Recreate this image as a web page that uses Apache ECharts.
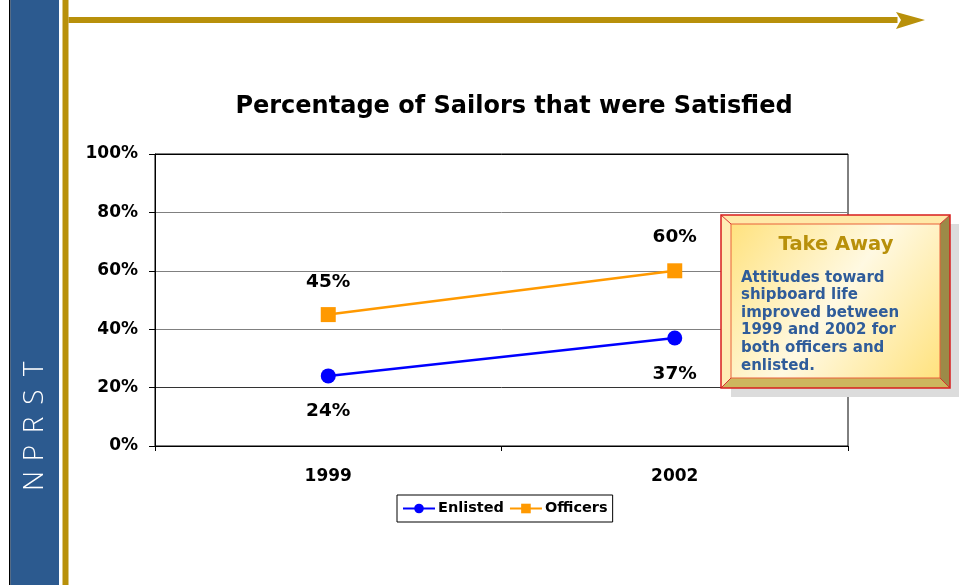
<!DOCTYPE html>
<html><head><meta charset="utf-8">
<script src="https://cdn.jsdelivr.net/npm/echarts@6/dist/echarts.min.js"></script>
<style>html,body{margin:0;padding:0;background:#fff}#c{width:963px;height:585px}</style>
</head><body><div id="c"></div>
<script>
const categories = ['1999', '2002'];
const enlisted = [24, 37];
const officers = [45, 60];
const yTicks = [0, 20, 40, 60, 80, 100];
const chartTitle = 'Percentage of Sailors that were Satisfied';
const sideLetters = ['N', 'P', 'R', 'S', 'T'];
const takeAwayTitle = 'Take Away';
const takeAwayText = 'Attitudes toward\nshipboard life\nimproved between\n1999 and 2002 for\nboth officers and\nenlisted.';

const FONT = '"DejaVu Sans", Verdana, sans-serif';
const gold = '#B8900A';
const chart = echarts.init(document.getElementById('c'), null, {renderer: 'canvas'});

const letterEls = sideLetters.map((ch, i) => ({
  type: 'text', x: 35, y: 481 - i * 28, rotation: Math.PI / 2, z: 10,
  style: {text: ch, fill: '#fff', font: '300 28px "Open Sans", sans-serif', align: 'center', verticalAlign: 'middle'}
}));

const bx = 721, by = 215, bw = 229, bh = 173, bv = 10;
const ix = bx + bv, iy = by + bv - 1, iw = bw - 2 * bv, ih = bh - 2 * bv + 1;

chart.setOption({
  animation: false,
  title: {
    text: chartTitle, left: 509, top: 90, textAlign: 'center',
    textStyle: {fontFamily: FONT, fontWeight: 'bold', fontSize: 24, color: '#000'}
  },
  grid: {left: 155, right: 115, top: 154, bottom: 139, show: true, borderColor: '#000', borderWidth: 1, backgroundColor: 'transparent'},
  legend: {
    data: ['Enlisted', 'Officers'], left: 397, top: 495, itemGap: 5, itemWidth: 32, itemHeight: 12,
    padding: [6, 5, 6, 5], borderColor: '#000', borderWidth: 1,
    textStyle: {fontFamily: FONT, fontWeight: 'bold', fontSize: 14.5, color: '#000', padding: [0, 0, 0, -2]}
  },
  xAxis: {
    type: 'category', data: categories, boundaryGap: true,
    axisLine: {lineStyle: {color: '#000', width: 1}},
    axisTick: {show: true, length: 5, lineStyle: {color: '#000'}},
    axisLabel: {fontFamily: FONT, fontWeight: 'bold', fontSize: 17, color: '#000', margin: 22}
  },
  yAxis: {
    type: 'value', min: yTicks[0], max: yTicks[yTicks.length - 1], interval: 20,
    axisLine: {show: true, lineStyle: {color: '#000', width: 1}},
    axisTick: {show: true, length: 6, lineStyle: {color: '#000'}},
    axisLabel: {formatter: '{value}%', fontFamily: FONT, fontWeight: 'bold', fontSize: 17, color: '#000', margin: 17},
    splitLine: {show: true, lineStyle: {color: ['#000', '#333', '#808080', '#808080', '#808080', '#000'], width: 1}}
  },
  series: [
    {
      name: 'Enlisted', type: 'line', data: enlisted.map((v, i) => ({value: v, label: {distance: i === 0 ? 18 : 19}})),
      symbol: 'circle', symbolSize: 15, lineStyle: {color: '#0000FF', width: 2.5}, itemStyle: {color: '#0000FF'},
      label: {show: true, position: 'bottom', formatter: '{c}%', fontFamily: FONT, fontWeight: 'bold', fontSize: 18.5, color: '#000'}
    },
    {
      name: 'Officers', type: 'line', data: officers.map((v, i) => ({value: v, label: {distance: i === 0 ? 15 : 17}})),
      symbol: 'rect', symbolSize: 15, lineStyle: {color: '#FF9900', width: 2.5}, itemStyle: {color: '#FF9900'},
      label: {show: true, position: 'top', formatter: '{c}%', fontFamily: FONT, fontWeight: 'bold', fontSize: 18.5, color: '#000'}
    }
  ],
  graphic: [
    {type: 'rect', shape: {x: 9, y: 0, width: 1.5, height: 585}, style: {fill: '#000'}, z: 5},
    {type: 'rect', shape: {x: 10.5, y: 0, width: 48.5, height: 585}, style: {fill: '#2C5A8F'}, z: 5},
    {type: 'rect', shape: {x: 62.5, y: 0, width: 6, height: 585}, style: {fill: gold}, z: 5},
    {type: 'rect', shape: {x: 68.5, y: 17, width: 829, height: 6}, style: {fill: gold}, z: 5},
    {type: 'polygon', shape: {points: [[896, 12], [925, 20], [896, 29], [901, 20]]}, style: {fill: gold}, z: 5},
    ...letterEls,
    {type: 'rect', shape: {x: 731, y: 224, width: 228, height: 173}, style: {fill: '#DCDCDC'}, z: 20},
    {type: 'polygon', shape: {points: [[bx, by], [bx + bw, by], [ix + iw, iy], [ix, iy]]}, style: {fill: '#FFE9A8'}, z: 21},
    {type: 'polygon', shape: {points: [[bx, by], [ix, iy], [ix, iy + ih], [bx, by + bh]]}, style: {fill: '#FFEDB5'}, z: 21},
    {type: 'polygon', shape: {points: [[bx + bw, by], [bx + bw, by + bh], [ix + iw, iy + ih], [ix + iw, iy]]}, style: {fill: '#9C8A48'}, z: 21},
    {type: 'polygon', shape: {points: [[bx, by + bh], [ix, iy + ih], [ix + iw, iy + ih], [bx + bw, by + bh]]}, style: {fill: '#CDB65E'}, z: 21},
    {type: 'rect', shape: {x: ix, y: iy, width: iw, height: ih}, z: 22,
      style: {fill: new echarts.graphic.LinearGradient(0, 0, 1, 1, [
        {offset: 0, color: '#FFE27E'}, {offset: 0.5, color: '#FFF9E2'}, {offset: 1, color: '#FFE27E'}
      ]), stroke: '#E8603A', lineWidth: 1}},
    {type: 'line', shape: {x1: bx, y1: by, x2: ix, y2: iy}, style: {stroke: '#D83030', lineWidth: 1}, z: 23},
    {type: 'line', shape: {x1: bx + bw, y1: by, x2: ix + iw, y2: iy}, style: {stroke: '#D83030', lineWidth: 1}, z: 23},
    {type: 'line', shape: {x1: bx, y1: by + bh, x2: ix, y2: iy + ih}, style: {stroke: '#D83030', lineWidth: 1}, z: 23},
    {type: 'line', shape: {x1: bx + bw, y1: by + bh, x2: ix + iw, y2: iy + ih}, style: {stroke: '#D83030', lineWidth: 1}, z: 23},
    {type: 'rect', shape: {x: bx, y: by, width: bw, height: bh}, style: {fill: 'none', stroke: '#D81E1E', lineWidth: 1.5}, z: 23},
    {type: 'text', x: 836, y: 245, z: 24,
      style: {text: takeAwayTitle, fill: gold, font: 'bold 19.5px ' + FONT, align: 'center', verticalAlign: 'middle'}},
    {type: 'text', x: 741, y: 269, z: 24,
      style: {text: takeAwayText, fill: '#2F5C9A', font: 'bold 15px ' + FONT, lineHeight: 17.6, align: 'left', verticalAlign: 'top'}}
  ]
});
</script></body></html>
